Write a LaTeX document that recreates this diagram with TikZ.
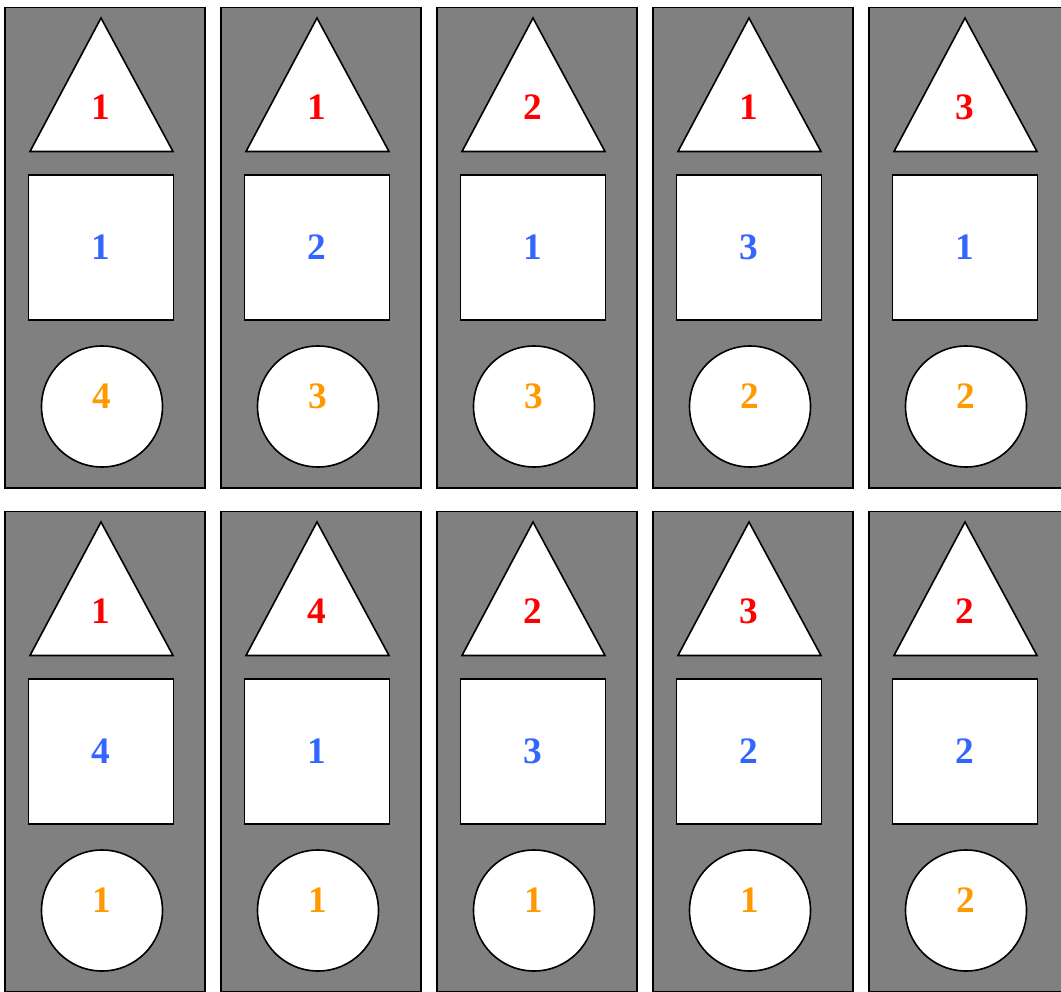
\documentclass[tikz,border=0pt]{standalone}
\usepackage{fontspec}
\setmainfont{Liberation Serif}
\usepackage{tikz}
\usetikzlibrary{positioning}
\definecolor{cardgray}{RGB}{128,128,128}
\definecolor{numred}{RGB}{255,0,0}
\definecolor{numblue}{RGB}{51,102,255}
\definecolor{numorange}{RGB}{255,153,0}

\begin{document}
\begin{tikzpicture}[x=0.75pt,y=-0.75pt,
  card/.style={draw=black,fill=cardgray,line width=1.1pt},
  shapebox/.style={draw=black,fill=white,line width=1.2pt,inner sep=0pt},
  num/.style={font=\fontsize{28}{32}\selectfont\bfseries,inner sep=0pt}]
\useasboundingbox (0,0) rectangle (1061,992);
\clip (0,0) rectangle (1061,992);
% 2 rows x 5 cards: triangle / square / circle values
\foreach \tv/\sv/\cv [count=\k from 0] in {1/1/4,1/2/3,2/1/3,1/3/2,3/1/2,1/4/1,4/1/1,2/3/1,3/2/1,2/2/2}{
  \pgfmathtruncatemacro{\col}{mod(\k,5)}
  \pgfmathtruncatemacro{\row}{div(\k,5)}
  \begin{scope}[shift={(\col*216,\row*504)}]
    \draw[card] (5,7.5) rectangle (205,488);
    \draw[shapebox] (101,18) -- (30,151.5) -- (173,151.5) -- cycle;
    \node[num,text=numred] (tri-\k) at (101,107) {\tv};
    \node[shapebox,minimum size=108.75pt,num,text=numblue] (sq-\k) at (101,247.5) {\sv};
    \node[shapebox,circle,minimum size=90.75pt] (circ-\k) at (102,406.5) {};
    \node[num,text=numorange,yshift=7.5pt] (cnum-\k) at (circ-\k.center) {\cv};
  \end{scope}
}
\end{tikzpicture}
\end{document}
